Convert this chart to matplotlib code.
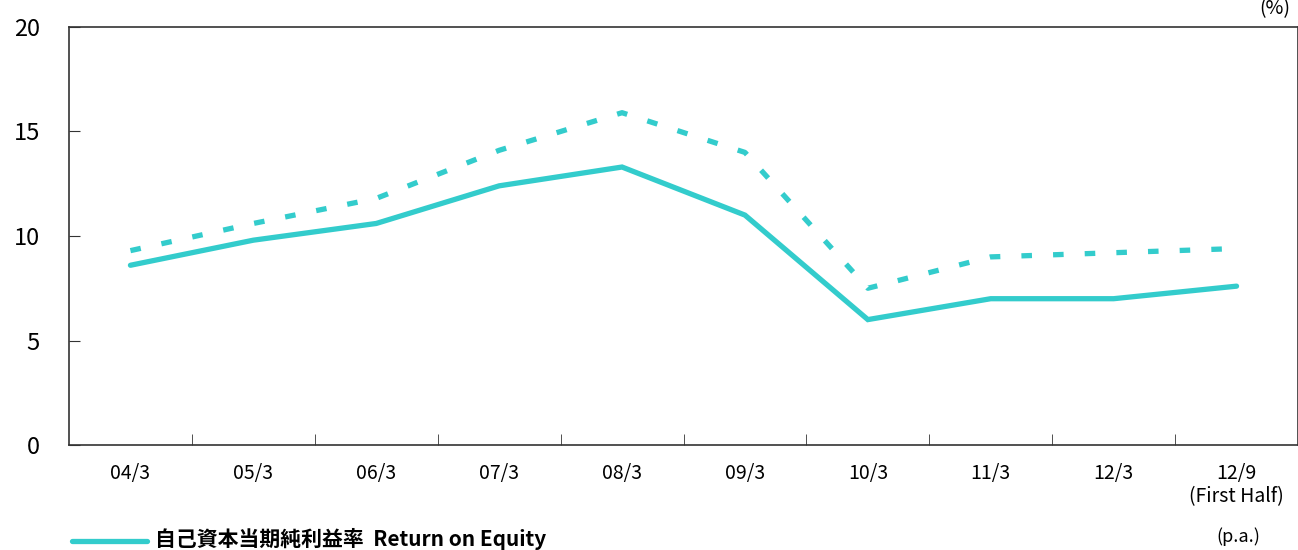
import matplotlib
matplotlib.use("Agg")
import matplotlib.pyplot as plt
from matplotlib.lines import Line2D

plt.rcParams["font.family"] = ["Noto Sans CJK JP", "DejaVu Sans"]

periods = ["04/3", "05/3", "06/3", "07/3", "08/3", "09/3", "10/3", "11/3", "12/3", "12/9\n(First Half)"]
roe = [8.6, 9.8, 10.6, 12.4, 13.3, 11.0, 6.0, 7.0, 7.0, 7.6]
roe_dashed = [9.3, 10.6, 11.8, 14.1, 15.9, 14.0, 7.5, 9.0, 9.2, 9.4]
yticks = [0, 5, 10, 15, 20]

color = "#33CCCC"
axis_color = "#333333"

fig = plt.figure(figsize=(12.98, 5.5), dpi=100)
ax = fig.add_axes([69 / 1298, 1 - 445 / 550, 1 - 69 / 1298, (445 - 27) / 550])

xs = list(range(len(periods)))
ax.plot(xs, roe, color=color, lw=3.8, solid_capstyle="round", solid_joinstyle="miter")
ax.plot(xs, roe_dashed, color=color, lw=3.8, dashes=(2, 4), dash_capstyle="butt")

ax.set_xlim(-0.5, len(periods) - 0.5)
ax.set_ylim(0, 20)
ax.set_yticks(yticks)
ax.set_yticklabels([str(v) for v in yticks], fontsize=17)

# category labels centred, tick marks between categories
ax.set_xticks(xs)
ax.set_xticklabels(periods, fontsize=14, linespacing=1.15)
ax.tick_params(axis="x", which="major", length=0, pad=13)
ax.set_xticks([i + 0.5 for i in range(len(periods) - 1)], minor=True)
ax.tick_params(axis="x", which="minor", direction="in", length=8, color=axis_color)
ax.tick_params(axis="y", direction="in", length=8, color=axis_color, pad=21)

for side in ["left", "bottom", "top", "right"]:
    ax.spines[side].set_color(axis_color)
    ax.spines[side].set_linewidth(1.2)

fig.text(1275 / 1298, 1 - 9 / 550, "(%)", fontsize=14, ha="center", va="center")
fig.text(1238 / 1298, 1 - 537 / 550, "(p.a.)", fontsize=13, ha="center", va="center")

fig.add_artist(Line2D([72 / 1298, 147 / 1298], [1 - 541 / 550, 1 - 541 / 550],
                      color=color, lw=3.8, solid_capstyle="round", transform=fig.transFigure))
fig.text(155 / 1298, 1 - 539 / 550, "自己資本当期純利益率  Return on Equity", fontsize=15,
         ha="left", va="center", fontweight="bold")

fig.savefig("out.png", dpi=100)
